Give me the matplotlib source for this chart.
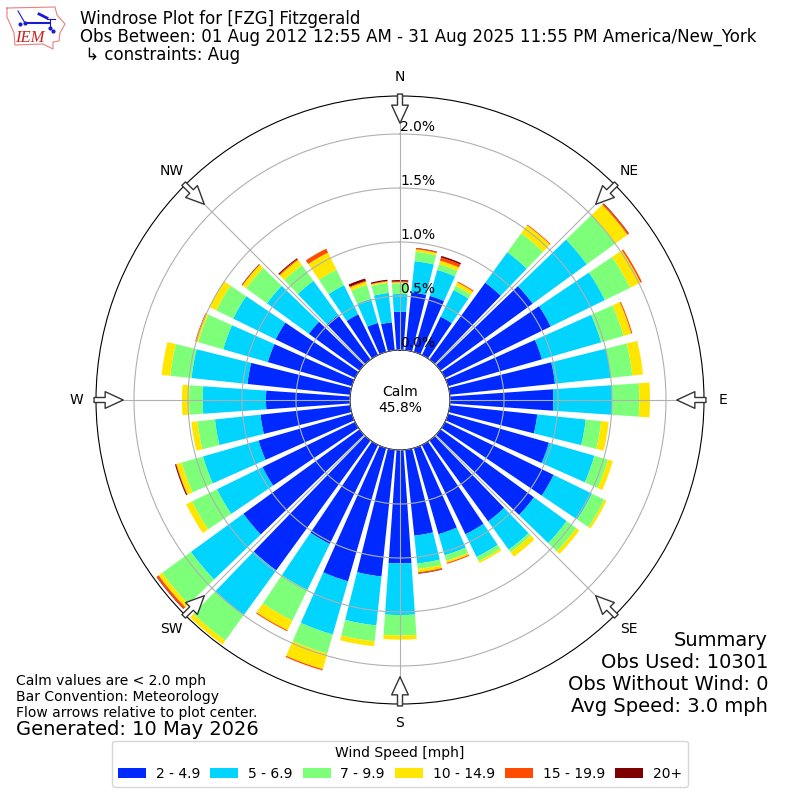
import numpy as np
import matplotlib
matplotlib.use('Agg')
import matplotlib.pyplot as plt

# wind direction bins, degrees
directions = np.arange(0, 360, 10)

# frequency [%] per speed bin
speed_2_5 = [.355, .54, .54, .395, .88, 1.055, 1.09, .905, .98, .957, .815, .972,
             1.12, 1.07, .926, .92, .83, .80, 1.05, 1.18, 1.284, 1.02, 1.487, 1.33,
             .954, .90, .836, .778, .957, .81, .818, .58, .51, .42, .28, .26]
speed_5_7 = [.164, .29, .25, .275, .348, .62, .558, .57, .52, .546, .451, .438,
             .395, .375, .324, .234, .203, .26, .478, .456, .512, .474, .51, .60,
             .469, .535, .424, .586, .521, .43, .438, .48, .39, .30, .232, .274]
speed_7_10 = [.098, .087, .055, .043, .217, .325, .259, .215, .20, .25, .144, .13,
              .127, .11, .03, .043, .053, .05, .188, .148, .184, .316, .293, .33,
              .257, .205, .163, .126, .198, .24, .174, .236, .18, .16, .133, .093]
speed_10_15 = [.010, .023, .035, .034, .092, .14, .108, .075, .10, .099, .07, .047,
               .023, .035, .05, .019, .019, .03, .04, .046, .15, .10, .045, .04,
               .06, .05, .057, .066, .08, .02, .073, .044, .06, .176, .031, .013]
speed_15_20 = [.008, .008, .03, .01, .008, .015, .015, .01, 0, 0, 0, 0,
               0, 0, 0, 0, .01, .01, 0, 0, .012, .01, 0, .02,
               0, .005, 0, 0, 0, .01, 0, .005, .01, .04, .009, .005]
speed_20 = [.013, .005, .015, 0, 0, .005, 0, 0, 0, 0, 0, 0,
            0, 0, 0, 0, 0, .005, 0, 0, 0, 0, 0, .005,
            0, .01, 0, 0, 0, 0, 0, .005, .01, 0, .022, .012]

speed_labels = ['2 - 4.9', '5 - 6.9', '7 - 9.9', '10 - 14.9', '15 - 19.9', '20+']
speed_colors = ['#0029ff', '#00d4ff', '#7dff7a', '#ffe600', '#ff4a00', '#7f0000']

compass = ['N', 'NE', 'E', 'SE', 'S', 'SW', 'W', 'NW']
r_ticks = [0.0, 0.5, 1.0, 1.5, 2.0]

fig = plt.figure(figsize=(8, 8), dpi=100)
ax = fig.add_axes([0.12, 0.12, 0.76, 0.76], projection='polar')
ax.set_theta_zero_location('N')
ax.set_theta_direction(-1)
ax.set_axisbelow(False)

theta = np.radians(directions)
bottom = np.zeros(len(directions))
series = [speed_2_5, speed_5_7, speed_7_10, speed_10_15, speed_15_20, speed_20]
for vals, lab, col in zip(series, speed_labels, speed_colors):
    ax.bar(theta, vals, width=np.radians(8), bottom=bottom, color=col, label=lab, linewidth=0)
    bottom = bottom + np.array(vals)

ax.set_rorigin(-0.463)
ax.set_ylim(0, 2.352)
ax.set_yticks(r_ticks)
ax.set_yticklabels(['%.1f%%' % t for t in r_ticks])
ax.set_rlabel_position(0)
ax.set_xticks(np.radians(np.arange(0, 360, 45)))
ax.set_xticklabels(compass)

# flow arrows, outer edge pointing at the plot center
for ang in np.arange(0, 360, 45):
    ax.annotate('', xy=(np.radians(ang), 2.10), xytext=(np.radians(ang), 2.37),
                annotation_clip=False,
                arrowprops=dict(facecolor='white', edgecolor='#333333', linewidth=1,
                                width=3.6, headwidth=12, headlength=13, shrink=0))

ax.text(0.5, 0.5, 'Calm\n45.8%', transform=ax.transAxes, ha='center', va='center', fontsize=10)

# header
fig.text(0.1, 1 - 24.5 / 800, 'Windrose Plot for [FZG] Fitzgerald', fontsize=12, va='baseline')
fig.text(0.1, 1 - 41.5 / 800, 'Obs Between: 01 Aug 2012 12:55 AM - 31 Aug 2025 11:55 PM America/New_York',
         fontsize=12.01, va='baseline')
fig.text(0.1, 1 - 60.5 / 800, ' ↳ constraints: Aug', fontsize=12, va='baseline')

# summary block
for y, line in zip([646, 668, 690, 712],
                   ['Summary', 'Obs Used: 10301', 'Obs Without Wind: 0', 'Avg Speed: 3.0 mph']):
    fig.text(0.96, 1 - y / 800, line, fontsize=14, ha='right', va='baseline')

# notes
for y, line in zip([685, 701, 717],
                   ['Calm values are < 2.0 mph', 'Bar Convention: Meteorology',
                    'Flow arrows relative to plot center.']):
    fig.text(0.02, 1 - y / 800, line, fontsize=10, va='baseline')
fig.text(0.02, 1 - 735 / 800, 'Generated: 10 May 2026', fontsize=14, va='baseline')

handles, labels = ax.get_legend_handles_labels()
fig.legend(handles, labels, title='Wind Speed [mph]', ncol=6, loc='lower center',
           bbox_to_anchor=(0.5, 0.008), columnspacing=0.75, handletextpad=0.7)

# rough IEM logo, pixel coordinates
logo = fig.add_axes([0, 1 - 56 / 800, 72 / 800, 56 / 800])
logo.set_xlim(0, 72)
logo.set_ylim(56, 0)
logo.axis('off')
outline_x = [7, 55, 57, 65, 60, 59, 53, 53, 43, 15, 14, 7, 7]
outline_y = [8, 7, 15, 24, 33, 41, 42, 49, 44, 45, 33, 17, 8]
logo.plot(outline_x, outline_y, color='#e88080', lw=0.8)
logo.plot([25, 50], [23, 23], color='#1a1ad0', lw=1.5)
logo.plot([18, 25], [11, 23], color='#1a1ad0', lw=0.8)
logo.plot([39, 47], [14, 18], color='#1a1ad0', lw=2)
logo.plot([47, 55], [19, 19], color='#1a1ad0', lw=0.8)
logo.plot([50, 50], [19, 27], color='#1a1ad0', lw=0.8)
logo.plot([25, 20, 50, 53], [23, 24, 28, 31], 'o', color='#1a1ad0', ms=2)
logo.text(30, 38, 'IEM', color='#d02020', fontsize=12, style='italic', family='Liberation Serif',
          ha='center', va='center')

fig.savefig('out.png', dpi=100)
